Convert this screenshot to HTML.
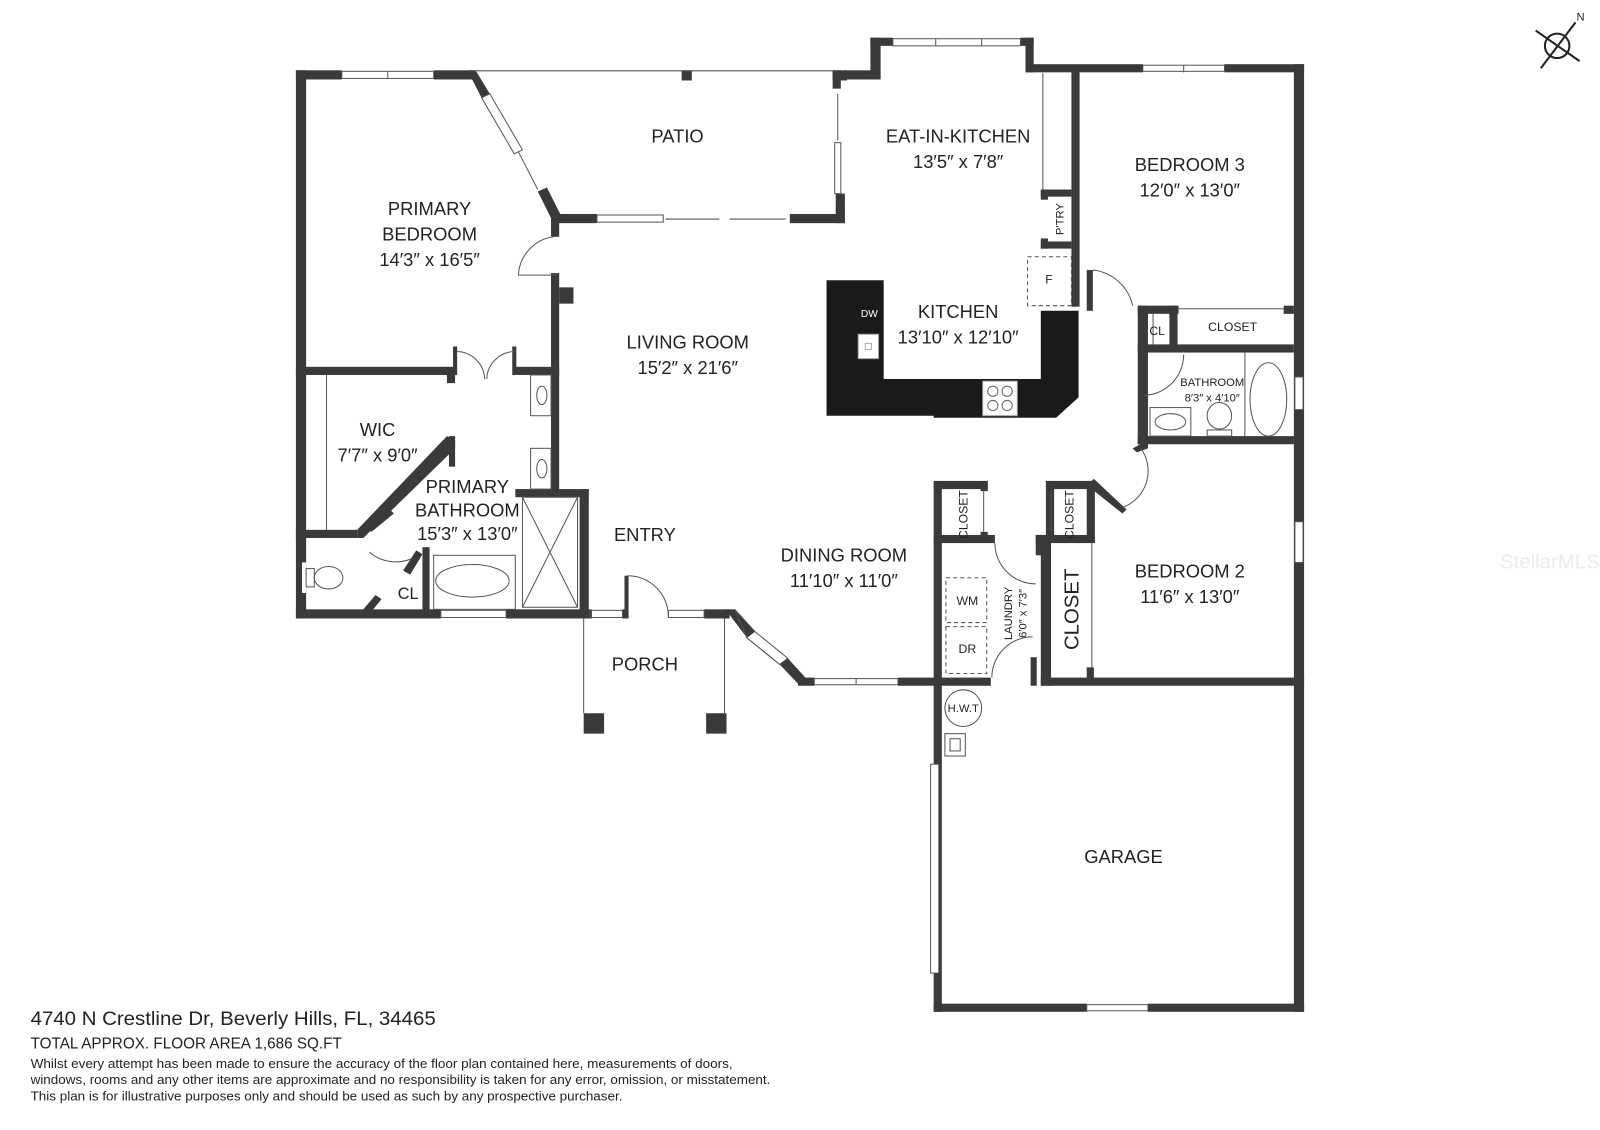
<!DOCTYPE html>
<html><head><meta charset="utf-8"><style>
html,body{margin:0;padding:0;background:#fff;}
svg{display:block;}
text{font-family:"Liberation Sans",sans-serif;fill:#222;}
</style></head><body>
<svg width="1600" height="1130" viewBox="0 0 1568 1109" preserveAspectRatio="none" xmlns="http://www.w3.org/2000/svg">
<g fill="#3a3a3a">
<rect x="290" y="69" width="10" height="538"/>
<rect x="290" y="69" width="45" height="9"/>
<rect x="425" y="69" width="40" height="9"/>
<polygon points="458,69 466,69 480,92 472,96"/>
<polygon points="527,188 536,184 550,212 541,216"/>
<rect x="540" y="210" width="45" height="9"/>
<rect x="540" y="210" width="8" height="22"/>
<rect x="540" y="268" width="8" height="215"/>
<rect x="548" y="282" width="14" height="16"/>
<rect x="290" y="360" width="150" height="8"/>
<rect x="438" y="360" width="8" height="16"/>
<rect x="503" y="360" width="45" height="8"/>
<rect x="444" y="340" width="4" height="28"/>
<rect x="502" y="340" width="4" height="28"/>
<rect x="290" y="520" width="60" height="8"/>
<polygon points="350,520 438,428 446,432 446,440 356,528 350,528"/>
<rect x="440" y="428" width="6" height="30"/>
<rect x="290" y="598" width="142" height="9"/>
<rect x="496" y="598" width="84" height="9"/>
<rect x="505" y="480" width="72" height="8"/>
<rect x="568" y="480" width="9" height="127"/>
<rect x="414" y="537" width="7" height="64"/>
<polygon points="395,560 408,540 414,544 402,564"/>
<polygon points="356,598 368,584 374,588 364,600"/>
<polygon points="360,518 382,500 386,504 364,522"/>
<rect x="296" y="552" width="4" height="30" fill="#fff"/>
<rect x="610" y="598" width="4" height="9"/>
<rect x="612" y="565" width="4" height="42"/>
<rect x="690" y="598" width="25" height="9"/>
<polygon points="711,598 720,598 740,620 732,626"/>
<polygon points="764,652 772,646 792,668 784,673"/>
<rect x="782" y="665" width="16" height="8"/>
<rect x="880" y="665" width="43" height="8"/>
<rect x="572" y="700" width="20" height="20"/>
<rect x="692" y="700" width="20" height="20"/>
<rect x="668" y="69" width="10" height="10"/>
<rect x="816" y="69" width="14" height="10"/>
<rect x="816" y="69" width="8" height="18"/>
<rect x="828" y="69" width="30" height="9"/>
<rect x="853" y="37" width="10" height="41"/>
<rect x="853" y="37" width="22" height="8"/>
<rect x="1000" y="37" width="13" height="8"/>
<rect x="1005" y="37" width="8" height="34"/>
<rect x="1005" y="63" width="115" height="8"/>
<rect x="1200" y="63" width="78" height="8"/>
<rect x="1268" y="63" width="10" height="930"/>
<rect x="774" y="210" width="54" height="9"/>
<rect x="819" y="190" width="9" height="29"/>
<rect x="1050" y="69" width="8" height="232"/>
<rect x="1020" y="186" width="30" height="7"/>
<rect x="1020" y="186" width="7" height="10"/>
<rect x="1020" y="237" width="30" height="7"/>
<rect x="1020" y="234" width="7" height="10"/>
<rect x="1065" y="265" width="6" height="40"/>
<polygon points="810,275 866,275 866,372 1020,372 1020,305 1057,305 1057,390 1035,410 915,410 915,408 810,408" fill="#1a1a1a"/>
<rect x="1115" y="300" width="10" height="136"/>
<rect x="1115" y="300" width="40" height="8"/>
<rect x="1146" y="300" width="8" height="45"/>
<rect x="1258" y="300" width="10" height="8"/>
<rect x="1115" y="338" width="153" height="8"/>
<rect x="1115" y="428" width="153" height="8"/>
<polygon points="1110,440 1125,432 1125,440 1114,444"/>
<rect x="915" y="472" width="8" height="521"/>
<rect x="915" y="472" width="53" height="8"/>
<rect x="961" y="472" width="7" height="10"/>
<rect x="961" y="522" width="7" height="10"/>
<rect x="915" y="525" width="60" height="8"/>
<rect x="1025" y="472" width="47" height="8"/>
<rect x="1025" y="472" width="8" height="60"/>
<rect x="1065" y="472" width="8" height="60"/>
<polygon points="1065,476 1072,470 1104,500 1100,504"/>
<rect x="1015" y="525" width="58" height="8"/>
<rect x="1015" y="525" width="6" height="20"/>
<rect x="1020" y="530" width="10" height="143"/>
<rect x="1065" y="655" width="7" height="15"/>
<rect x="915" y="665" width="56" height="8"/>
<rect x="1010" y="645" width="6" height="28"/>
<rect x="1020" y="665" width="258" height="8"/>
<rect x="915" y="985" width="150" height="8"/>
<rect x="1125" y="985" width="153" height="8"/>
</g>
<g fill="none" stroke="#555" stroke-width="1">
<line x1="462" y1="69.5" x2="820" y2="69.5"/>
<rect x="335" y="70" width="90" height="7"/><line x1="380" y1="70" x2="380" y2="77"/>
<polygon points="472,96 480,92 512,147 504,151"/>
<line x1="508" y1="149" x2="527" y2="186"/>
<rect x="585" y="211" width="65" height="7"/>
<line x1="652" y1="215" x2="705" y2="215"/><line x1="715" y1="215" x2="770" y2="215"/>
<rect x="818" y="140" width="6" height="50"/>
<line x1="821" y1="92" x2="821" y2="138"/>
<rect x="875" y="38" width="125" height="7"/><line x1="917" y1="38" x2="917" y2="45"/><line x1="962" y1="38" x2="962" y2="45"/>
<rect x="1120" y="64" width="80" height="6"/><line x1="1160" y1="64" x2="1160" y2="71"/>
<line x1="1022" y1="72" x2="1022" y2="186"/>
<rect x="1007" y="252" width="43" height="48" stroke-dasharray="4,3"/>
<path d="M548,232 A40,40 0 0,0 508,270 L548,270"/>
<path d="M448,345 A28,28 0 0,1 475,372 M504,345 A28,28 0 0,0 477,372"/>
<line x1="320" y1="368" x2="320" y2="520"/>
<rect x="520" y="368" width="20" height="40"/><ellipse cx="531" cy="388" rx="5" ry="9"/>
<rect x="520" y="440" width="20" height="40"/><ellipse cx="531" cy="460" rx="5" ry="9"/>
<rect x="512" y="488" width="54" height="108"/><line x1="512" y1="488" x2="566" y2="596"/><line x1="566" y1="488" x2="512" y2="596"/>
<rect x="425" y="545" width="80" height="53"/><ellipse cx="463" cy="570" rx="36" ry="16"/>
<path d="M362,542 A40,40 0 0,0 404,548"/>
<ellipse cx="322" cy="567" rx="14" ry="11"/><rect x="300" y="558" width="8" height="18"/>
<rect x="432" y="599" width="64" height="7"/><rect x="578" y="599" width="32" height="7"/><rect x="655" y="599" width="35" height="7"/>
<path d="M615,565 A40,40 0 0,1 655,605"/>
<polygon points="720,598 732,626 764,652 772,646 740,620"/>
<line x1="732" y1="626" x2="764" y2="652"/>
<rect x="798" y="666" width="82" height="6"/><line x1="839" y1="666" x2="839" y2="672"/>
<line x1="572" y1="607" x2="572" y2="700"/><line x1="710" y1="607" x2="710" y2="700"/>
<path d="M1071,265 A45,45 0 0,1 1110,300"/>
<line x1="1130" y1="308" x2="1130" y2="338"/><line x1="1154" y1="303" x2="1258" y2="303"/>
<path d="M1160,348 A40,40 0 0,1 1120,388"/>
<rect x="1127" y="400" width="40" height="28"/><ellipse cx="1147" cy="414" rx="15" ry="8"/>
<ellipse cx="1195" cy="408" rx="12" ry="13"/><rect x="1183" y="422" width="24" height="6"/>
<line x1="1220" y1="346" x2="1220" y2="428"/><ellipse cx="1243" cy="392" rx="18" ry="36"/>
<rect x="1269" y="370" width="8" height="32" fill="#fff"/>
<path d="M1118,440 A38,38 0 0,1 1100,498"/>
<rect x="1269" y="512" width="8" height="40" fill="#fff"/>
<line x1="964" y1="482" x2="964" y2="522"/><line x1="1030" y1="482" x2="1030" y2="522"/>
<line x1="1070" y1="533" x2="1070" y2="655"/>
<path d="M975,533 A40,40 0 0,0 1015,573"/>
<path d="M1012,625 A40,40 0 0,0 972,665"/>
<rect x="927" y="567" width="40" height="44" stroke-dasharray="4,3"/>
<rect x="927" y="615" width="40" height="46" stroke-dasharray="4,3"/>
<circle cx="944" cy="695" r="18"/>
<rect x="926" y="720" width="20" height="22"/><rect x="931" y="725" width="10" height="12"/>
<rect x="912" y="750" width="8" height="205" fill="#fff"/>
<rect x="1065" y="986" width="60" height="6"/>
</g>
<rect x="841" y="328" width="20" height="24" fill="#fff" stroke="#999"/>
<rect x="848" y="337" width="6" height="6" fill="none" stroke="#aaa"/>
<rect x="963" y="374" width="34" height="34" fill="#fff" stroke="#999"/>
<g fill="none" stroke="#666"><circle cx="973" cy="384" r="5"/><circle cx="987" cy="384" r="5"/><circle cx="973" cy="398" r="5"/><circle cx="987" cy="398" r="5"/></g>
<g stroke="#222" stroke-width="2" fill="none"><circle cx="1526" cy="45" r="12"/><line x1="1505" y1="30" x2="1548" y2="60"/><line x1="1510" y1="67" x2="1544" y2="22"/></g>
<text x="1545" y="20" font-size="11">N</text>
<g font-size="18" text-anchor="middle">
<text x="664" y="140">PATIO</text>
<text x="939" y="140">EAT-IN-KITCHEN</text><text x="939" y="165">13′5″ x 7′8″</text>
<text x="1166" y="168">BEDROOM 3</text><text x="1166" y="193">12′0″ x 13′0″</text>
<text x="421" y="211">PRIMARY</text><text x="421" y="236">BEDROOM</text><text x="421" y="261">14′3″ x 16′5″</text>
<text x="939" y="312">KITCHEN</text><text x="939" y="337">13′10″ x 12′10″</text>
<text x="674" y="342">LIVING ROOM</text><text x="674" y="367">15′2″ x 21′6″</text>
<text x="370" y="428">WIC</text><text x="370" y="453">7′7″ x 9′0″</text>
<text x="458" y="484">PRIMARY</text><text x="458" y="507">BATHROOM</text><text x="458" y="530">15′3″ x 13′0″</text>
<text x="632" y="531">ENTRY</text>
<text x="827" y="551">DINING ROOM</text><text x="827" y="576">11′10″ x 11′0″</text>
<text x="1166" y="567">BEDROOM 2</text><text x="1166" y="592">11′6″ x 13′0″</text>
<text x="632" y="658">PORCH</text>
<text x="1101" y="847">GARAGE</text>
</g>
<g font-size="12" text-anchor="middle">
<text x="852" y="311" font-size="10" style="fill:#fff">DW</text>
<text x="1028" y="278">F</text>
<text x="1134" y="329">CL</text>
<text x="1208" y="325">CLOSET</text>
<text x="1188" y="379" font-size="11">BATHROOM</text><text x="1188" y="394" font-size="11">8′3″ x 4′10″</text>
<text x="400" y="588" font-size="16">CL</text>
<text x="948" y="594">WM</text><text x="948" y="641">DR</text>
<text x="944" y="699" font-size="11">H.W.T</text>
<text transform="translate(1042,215) rotate(-90)" font-size="11">P'TRY</text>
<text transform="translate(948,505) rotate(-90)">CLOSET</text>
<text transform="translate(1052,505) rotate(-90)">CLOSET</text>
<text transform="translate(1057,598) rotate(-90)" font-size="20">CLOSET</text>
<text transform="translate(992,602) rotate(-90)" font-size="11">LAUNDRY</text>
<text transform="translate(1006,602) rotate(-90)" font-size="11">6′0″ x 7′3″</text>
</g>
<text x="1470" y="558" font-size="20" style="fill:#ececec">StellarMLS</text>
<text x="30" y="1006" font-size="19" textLength="397" lengthAdjust="spacingAndGlyphs">4740 N Crestline Dr, Beverly Hills, FL, 34465</text>
<text x="30" y="1029" font-size="15" textLength="305" lengthAdjust="spacingAndGlyphs">TOTAL APPROX. FLOOR AREA 1,686 SQ.FT</text>
<text x="30" y="1048" font-size="12.5" textLength="688" lengthAdjust="spacingAndGlyphs">Whilst every attempt has been made to ensure the accuracy of the floor plan contained here, measurements of doors,</text>
<text x="30" y="1064" font-size="12.5" textLength="725" lengthAdjust="spacingAndGlyphs">windows, rooms and any other items are approximate and no responsibility is taken for any error, omission, or misstatement.</text>
<text x="30" y="1080" font-size="12.5" textLength="580" lengthAdjust="spacingAndGlyphs">This plan is for illustrative purposes only and should be used as such by any prospective purchaser.</text>
</svg>
</body></html>
